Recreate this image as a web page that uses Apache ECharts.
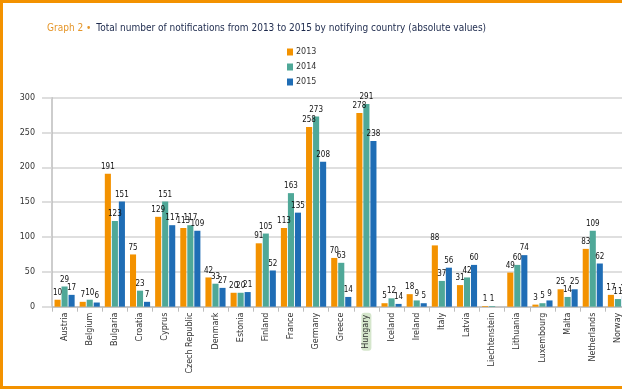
<!DOCTYPE html>
<html><head><meta charset="utf-8">
<script src="https://cdn.jsdelivr.net/npm/echarts@6/dist/echarts.min.js"></script>
<style>
html,body{margin:0;padding:0;background:#fff;overflow:hidden}
#wrap{position:relative;width:622px;height:389px;overflow:hidden}
#c{position:absolute;left:0;top:0;width:622px;height:389px}
#frame{position:absolute;left:0;top:0;width:700px;height:383px;border-top:3px solid #f39200;border-left:3px solid #f39200;border-bottom:3px solid #f39200;pointer-events:none}
</style>
</head><body><div id="wrap"><div id="c"></div><div id="frame"></div></div>
<script>
const categories = ["Austria","Belgium","Bulgaria","Croatia","Cyprus","Czech Republic","Denmark","Estonia","Finland","France","Germany","Greece","Hungary","Iceland","Ireland","Italy","Latvia","Liechtenstein","Lithuania","Luxembourg","Malta","Netherlands","Norway"];
const values2013 = [10,7,191,75,129,113,42,20,91,113,258,70,278,5,18,88,31,1,49,3,25,83,17];
const values2014 = [29,10,123,23,151,117,33,20,105,163,273,63,291,12,9,37,42,1,60,5,14,109,11];
const values2015 = [17,6,151,7,117,109,27,21,52,135,208,14,238,4,5,56,60,0,74,9,25,62,15];
const seriesNames = ["2013","2014","2015"];
const yTicks = [0,50,100,150,200,250,300];
const labelOverrides = {"2015|Iceland":"14"};
const highlighted = "Hungary";

const colors = ["#f39200","#4fa898","#1f6db5"];
const chart = echarts.init(document.getElementById('c'));
const allVals = [values2013, values2014, values2015];
const series = seriesNames.map((n,i)=>({
  name:n, type:'bar', data:allVals[i],
  itemStyle:{color:colors[i]},
  barGap:'15%', barCategoryGap:'20%',
  label:{show:true, position:'top', distance:3, fontSize:8, fontFamily:'DejaVu Sans Condensed', color:'#111',
    formatter:p=>{const k=n+'|'+p.name; if(labelOverrides[k]) return labelOverrides[k]; return p.value===0?'':String(p.value);}}
}));
chart.setOption({
  animation:false,
  title:{text:'{a|Graph 2 •} {b|Total number of notifications from 2013 to 2015 by notifying country (absolute values)}',
    left:42, top:14,
    textStyle:{fontWeight:'normal', rich:{
      a:{color:'#e5962a',fontSize:10,fontWeight:'normal',fontFamily:'DejaVu Sans Condensed'},
      b:{color:'#1d2a4d',fontSize:10,fontWeight:'normal',fontFamily:'DejaVu Sans Condensed'}}}},
  legend:{orient:'vertical', left:282, top:43, itemWidth:6, itemHeight:7, itemGap:7,
    icon:'rect', textStyle:{fontSize:8, color:'#333', fontFamily:'DejaVu Sans', padding:[0,0,0,-2]}, data:seriesNames},
  grid:{left:52, top:97.7, bottom:82.3, width:578.5, containLabel:false, outerBoundsMode:'none'},
  xAxis:{type:'category', data:categories,
    axisLine:{lineStyle:{color:'#bdbdbd', width:1.5}},
    axisTick:{show:true, length:5, lineStyle:{color:'#bdbdbd'}},
    axisLabel:{rotate:90, interval:0, margin:6, fontSize:8, color:'#333', fontFamily:'DejaVu Sans',
      formatter:v=> v===highlighted ? '{h|'+v+'}' : v,
      rich:{h:{backgroundColor:'#d5e6cc', borderRadius:3, padding:[1,2,1,2], fontSize:8, color:'#333', fontFamily:'DejaVu Sans'}}}},
  yAxis:{type:'value', min:yTicks[0], max:yTicks[yTicks.length-1], interval:50,
    axisLine:{show:true, lineStyle:{color:'#bdbdbd', width:1.5}},
    axisTick:{show:true, length:10, lineStyle:{color:'#d4d4d4', width:1.5}},
    splitLine:{lineStyle:{color:'#d4d4d4', width:1.5}},
    axisLabel:{margin:17, fontSize:8, color:'#333', fontFamily:'DejaVu Sans'}},
  series:series
});
</script></body></html>
